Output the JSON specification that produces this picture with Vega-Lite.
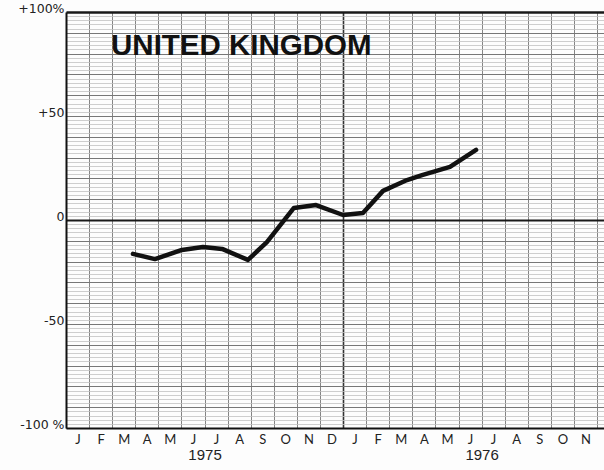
{
  "$schema": "https://vega.github.io/schema/vega-lite/v6.json",
  "width": 538,
  "height": 416,
  "autosize": {"type": "none"},
  "padding": {"left": 66, "top": 12, "right": 0, "bottom": 42},
  "background": "#fdfdfd",
  "config": {"view": {"stroke": null}},
  "datasets": {
    "series": [
      {"month": 2.90, "pct": -16.3},
      {"month": 3.85, "pct": -18.8},
      {"month": 5.02, "pct": -14.4},
      {"month": 5.93, "pct": -13.0},
      {"month": 6.76, "pct": -13.9},
      {"month": 7.88, "pct": -19.2},
      {"month": 8.70, "pct": -10.6},
      {"month": 9.87, "pct": 5.8},
      {"month": 10.83, "pct": 7.2},
      {"month": 12.0, "pct": 2.4},
      {"month": 12.86, "pct": 3.4},
      {"month": 13.73, "pct": 14.0},
      {"month": 14.77, "pct": 19.2},
      {"month": 15.42, "pct": 21.6},
      {"month": 16.63, "pct": 25.5},
      {"month": 17.76, "pct": 33.7}
    ],
    "title": [
      {"month": 1.95, "pct": 79.5, "label": "UNITED KINGDOM"}
    ]
  },
  "resolve": {"axis": {"x": "independent", "y": "independent"}},
  "layer": [
    {
      "data": {"name": "series"},
      "mark": {"type": "line", "color": "#111", "strokeWidth": 4.5, "strokeCap": "round", "strokeJoin": "round"},
      "encoding": {
        "x": {
          "field": "month", "type": "quantitative",
          "scale": {"domain": [0, 23.3], "nice": false, "zero": false},
          "axis": {
            "orient": "bottom", "title": null,
            "values": [0,1,2,3,4,5,6,7,8,9,10,11,12,13,14,15,16,17,18,19,20,21,22,23],
            "labelExpr": "datum.value >= 23 ? '' : ['J','F','M','A','M','J','J','A','S','O','N','D'][datum.value % 12]",
            "labelOffset": 11.5, "labelFlush": false, "labelOverlap": false, "labelBound": false,
            "labelFont": "Lato", "labelFontSize": 13, "labelColor": "#222",
            "labelBaseline": "top", "labelPadding": 5,
            "ticks": false,
            "domain": true, "domainColor": "#111", "domainWidth": 2,
            "grid": true,
            "gridColor": {"condition": {"test": "datum.value === 12", "value": "#333"}, "value": "#777"},
            "gridWidth": {"condition": {"test": "datum.value === 12", "value": 1.6}, "value": 0.9}
          }
        },
        "y": {
          "field": "pct", "type": "quantitative",
          "scale": {"domain": [-100, 100], "nice": false, "zero": false},
          "axis": {
            "orient": "left", "title": null,
            "values": [-100,-98,-96,-94,-92,-90,-88,-86,-84,-82,-80,-78,-76,-74,-72,-70,-68,-66,-64,-62,-60,-58,-56,-54,-52,-50,-48,-46,-44,-42,-40,-38,-36,-34,-32,-30,-28,-26,-24,-22,-20,-18,-16,-14,-12,-10,-8,-6,-4,-2,0,2,4,6,8,10,12,14,16,18,20,22,24,26,28,30,32,34,36,38,40,42,44,46,48,50,52,54,56,58,60,62,64,66,68,70,72,74,76,78,80,82,84,86,88,90,92,94,96,98,100],
            "labelExpr": "datum.value == 100 ? '+100%' : datum.value == 50 ? '+50' : datum.value == 0 ? '0' : datum.value == -50 ? '-50' : datum.value == -100 ? '-100 %' : ''",
            "labelOverlap": false, "labelFlush": false, "labelBound": false,
            "labelFont": "DejaVu Sans", "labelFontSize": 12.5, "labelColor": "#222",
            "labelBaseline": "alphabetic", "labelAlign": "right", "labelPadding": 2,
            "ticks": false,
            "domain": true, "domainColor": "#111", "domainWidth": 2,
            "grid": true,
            "gridColor": {"condition": [{"test": "datum.value === 0 || datum.value === 100", "value": "#1a1a1a"}, {"test": "datum.value % 10 === 0", "value": "#777"}], "value": "#c2c2c2"},
            "gridWidth": {"condition": [{"test": "datum.value === 0", "value": 1.8}, {"test": "datum.value === 100", "value": 2.4}, {"test": "datum.value % 10 === 0", "value": 1}], "value": 0.8}
          }
        }
      }
    },
    {
      "data": {"name": "title"},
      "mark": {"type": "text", "font": "Liberation Sans", "fontWeight": "bold", "fontSize": 29.5, "align": "left", "baseline": "alphabetic", "color": "#111"},
      "encoding": {
        "x": {
          "field": "month", "type": "quantitative",
          "axis": {
            "orient": "bottom", "title": null,
            "values": [6, 18],
            "labelExpr": "datum.value == 6 ? '1975' : '1976'",
            "labelFlush": false, "labelOverlap": false,
            "labelFont": "Liberation Sans", "labelFontSize": 15, "labelColor": "#222",
            "labelBaseline": "top", "labelPadding": 19,
            "ticks": false, "domain": false, "grid": false
          }
        },
        "y": {"field": "pct", "type": "quantitative", "axis": null},
        "text": {"field": "label"}
      }
    }
  ]
}
